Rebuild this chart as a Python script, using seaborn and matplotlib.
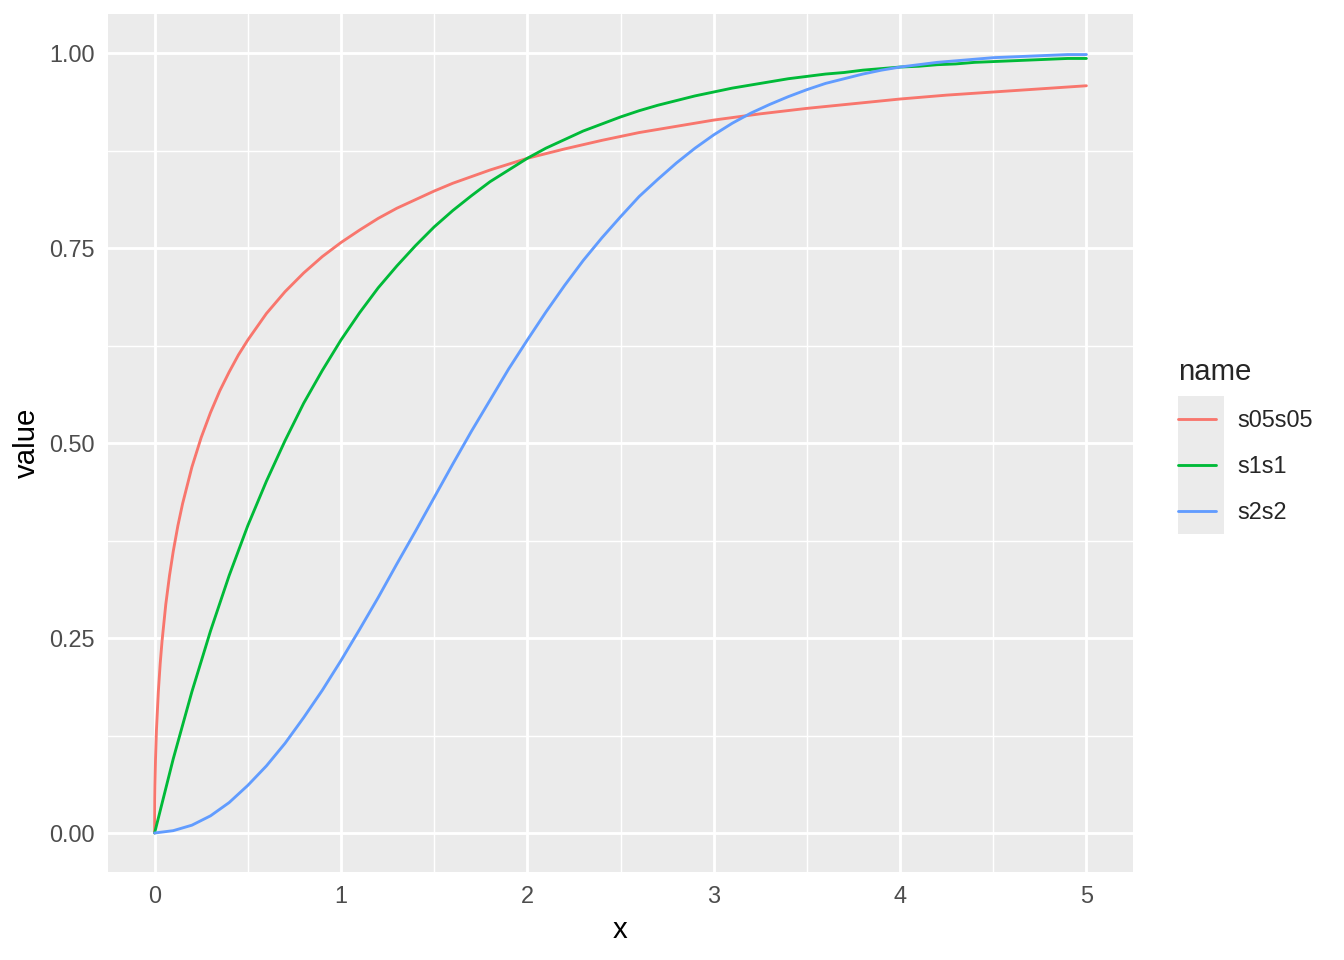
import numpy as np
import pandas as pd
import matplotlib
matplotlib.use("Agg")
import matplotlib.pyplot as plt
from matplotlib.patches import Rectangle
import seaborn as sns

# values
x_s05s05 = [0, 0.001, 0.002, 0.005, 0.01, 0.02, 0.03, 0.04, 0.06, 0.08, 0.1, 0.125, 0.15,
            0.2, 0.25, 0.3, 0.35, 0.4, 0.45, 0.5, 0.6, 0.7, 0.8, 0.9, 1.0, 1.1, 1.2, 1.3,
            1.4, 1.5, 1.6, 1.8, 2.0, 2.2, 2.4, 2.6, 2.8, 3.0, 3.25, 3.5, 3.75, 4.0, 4.25,
            4.5, 4.75, 5.0]
y_s05s05 = [0, 0.044, 0.061, 0.095, 0.132, 0.181, 0.217, 0.246, 0.293, 0.330, 0.361, 0.394,
            0.422, 0.469, 0.507, 0.539, 0.567, 0.591, 0.613, 0.632, 0.666, 0.694, 0.718,
            0.739, 0.757, 0.773, 0.788, 0.801, 0.812, 0.823, 0.833, 0.850, 0.865, 0.877,
            0.888, 0.898, 0.906, 0.914, 0.922, 0.929, 0.935, 0.941, 0.946, 0.950, 0.954,
            0.958]

x_s1s1 = [0, 0.1, 0.2, 0.3, 0.4, 0.5, 0.6, 0.7, 0.8, 0.9, 1.0, 1.1, 1.2, 1.3, 1.4, 1.5,
          1.6, 1.7, 1.8, 1.9, 2.0, 2.1, 2.2, 2.3, 2.4, 2.5, 2.6, 2.7, 2.8, 2.9, 3.0, 3.1,
          3.2, 3.3, 3.4, 3.5, 3.6, 3.7, 3.8, 3.9, 4.0, 4.1, 4.2, 4.3, 4.4, 4.5, 4.6, 4.7,
          4.8, 4.9, 5.0]
y_s1s1 = [0, 0.095, 0.181, 0.259, 0.330, 0.394, 0.451, 0.503, 0.551, 0.593, 0.632, 0.667,
          0.699, 0.727, 0.753, 0.777, 0.798, 0.817, 0.835, 0.850, 0.865, 0.878, 0.889,
          0.900, 0.909, 0.918, 0.926, 0.933, 0.939, 0.945, 0.950, 0.955, 0.959, 0.963,
          0.967, 0.970, 0.973, 0.975, 0.978, 0.980, 0.982, 0.983, 0.985, 0.986, 0.988,
          0.989, 0.990, 0.991, 0.992, 0.993, 0.993]

x_s2s2 = x_s1s1
y_s2s2 = [0, 0.003, 0.010, 0.022, 0.039, 0.061, 0.086, 0.115, 0.148, 0.183, 0.221, 0.261,
          0.302, 0.345, 0.387, 0.430, 0.473, 0.515, 0.555, 0.595, 0.632, 0.668, 0.702,
          0.734, 0.763, 0.790, 0.816, 0.838, 0.859, 0.878, 0.895, 0.910, 0.923, 0.934,
          0.944, 0.953, 0.961, 0.967, 0.973, 0.978, 0.982, 0.985, 0.988, 0.990, 0.992,
          0.994, 0.995, 0.996, 0.997, 0.998, 0.998]

names = ["s05s05", "s1s1", "s2s2"]
colors = ["#F8766D", "#00BA38", "#619CFF"]

df = pd.concat([
    pd.DataFrame({"x": x_s05s05, "value": y_s05s05, "name": "s05s05"}),
    pd.DataFrame({"x": x_s1s1, "value": y_s1s1, "name": "s1s1"}),
    pd.DataFrame({"x": x_s2s2, "value": y_s2s2, "name": "s2s2"}),
])

sns.set_theme(style="darkgrid")
plt.rcParams["font.family"] = ["Liberation Sans", "DejaVu Sans"]

fig = plt.figure(figsize=(7, 5), dpi=192)
ax = fig.add_axes([108 / 1344, 1 - 872 / 960, (1133 - 108) / 1344, (872 - 14) / 960])
ax.set_facecolor("#EBEBEB")

sns.lineplot(data=df, x="x", y="value", hue="name", hue_order=names,
             palette=colors, linewidth=1.07, ax=ax, sort=False)

ax.set_xlim(-0.25, 5.25)
ax.set_ylim(-0.05, 1.05)
ax.set_xticks([0, 1, 2, 3, 4, 5])
ax.set_xticklabels(["0", "1", "2", "3", "4", "5"])
ax.set_yticks([0, 0.25, 0.5, 0.75, 1.0])
ax.set_yticklabels(["0.00", "0.25", "0.50", "0.75", "1.00"])
ax.set_xticks([0.5, 1.5, 2.5, 3.5, 4.5], minor=True)
ax.set_yticks([0.125, 0.375, 0.625, 0.875], minor=True)
ax.grid(which="major", color="white", linewidth=1.07)
ax.grid(which="minor", color="white", linewidth=0.53)
ax.set_axisbelow(True)
for s in ax.spines.values():
    s.set_visible(False)
ax.tick_params(which="major", length=2.75, width=1.07, color="#333333",
               labelsize=8.8, labelcolor="#4D4D4D", pad=2.2)
ax.tick_params(which="minor", length=0)
ax.set_xlabel("x", fontsize=11, color="black", labelpad=3)
ax.set_ylabel("value", fontsize=11, color="black", labelpad=3)

# legend in ggplot style
leg = ax.legend(title="name", loc="upper left", frameon=False,
                bbox_to_anchor=(1178 / 1344, 1 - 358 / 960), bbox_transform=fig.transFigure,
                fontsize=8.8, title_fontsize=11, borderpad=0, borderaxespad=0,
                handlelength=1.6, handletextpad=0.92, labelspacing=0.98,
                alignment="left")
for h in leg.get_lines():
    h.set_linewidth(1.07)
fig.patches.append(Rectangle((1178 / 1344, 1 - 534 / 960), 46 / 1344, 138 / 960,
                             transform=fig.transFigure, facecolor="#EBEBEB",
                             edgecolor="none", zorder=-1))

fig.savefig("out.png", dpi=192)
